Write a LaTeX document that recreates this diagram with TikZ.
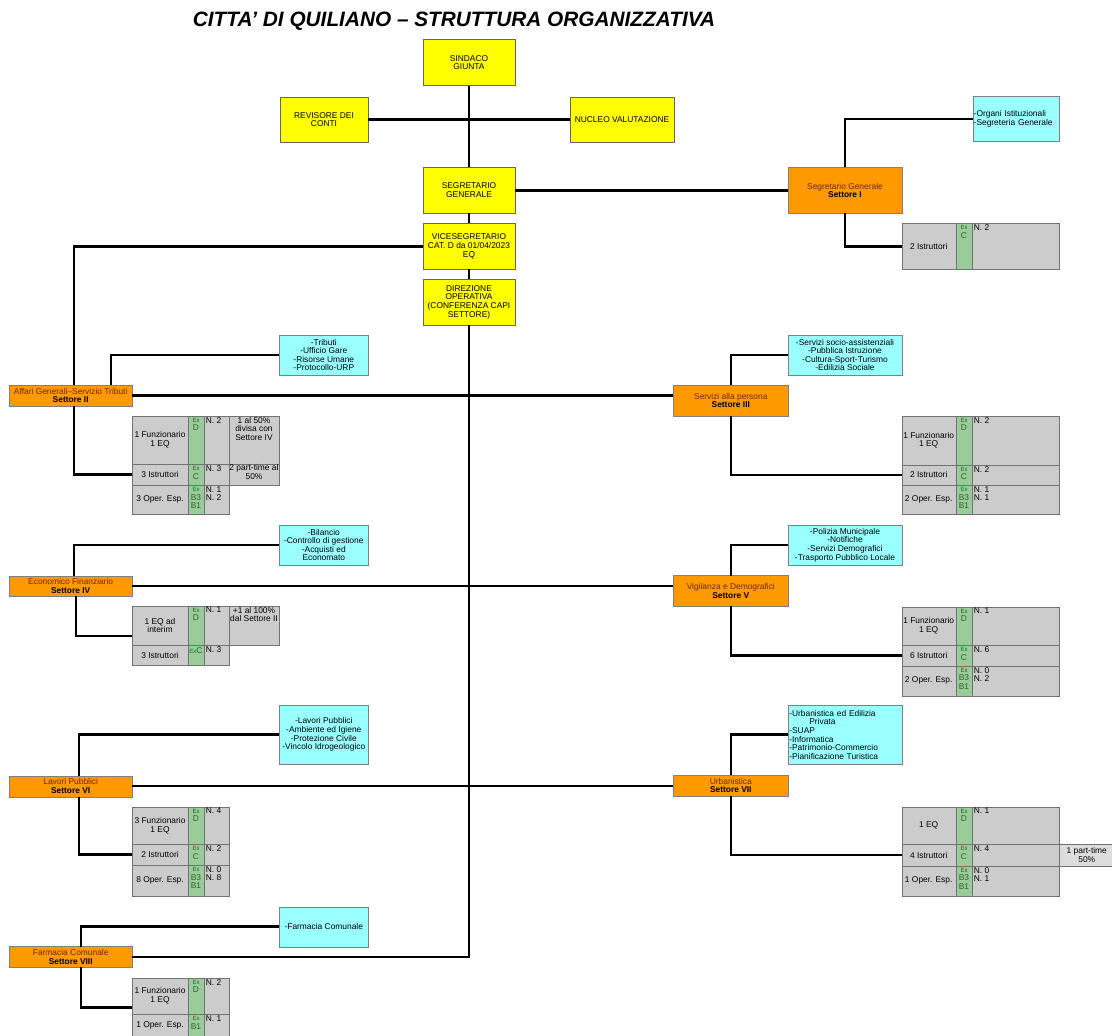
\documentclass[tikz,border=0pt]{standalone}
\usepackage{fontspec}
\setmainfont{Liberation Sans}
\usetikzlibrary{positioning,calc}
\definecolor{giallo}{HTML}{FFFF00}
\definecolor{arancio}{HTML}{FF9900}
\definecolor{azzurro}{HTML}{99FFFF}
\definecolor{grigio}{HTML}{CCCCCC}
\definecolor{grigiochiaro}{HTML}{DDDDDD}
\definecolor{verde}{HTML}{99CC99}
\definecolor{verdescuro}{HTML}{2F5F2F}
\definecolor{marrone}{HTML}{6B2A00}
\newcommand{\exsm}{{\fontsize{6}{6.5}\selectfont Ex}}

\begin{document}
\begin{tikzpicture}[x=1pt,y=-1pt,
  base/.style={font=\fontsize{8.4}{8.6}\selectfont,inner sep=1pt,outer sep=0pt,align=center},
  ybox/.style={base,draw=black!60,fill=giallo,minimum width=92,minimum height=46},
  obox/.style={base,draw=black!50,fill=arancio,text=marrone},
  cbox/.style={base,draw=black!50,fill=azzurro},
  cella/.style={base,draw=black!55,fill=grigio,anchor=north west},
  cverde/.style={cella,fill=verde,minimum width=16.6},
  testo/.style={base,anchor=north,inner sep=1.5pt},
  extesto/.style={testo,inner sep=2.5pt,text=verdescuro},
  conn/.style={line width=2.5pt}]
\useasboundingbox (0,0) rectangle (1112,1036);
\node[font=\fontsize{20.8}{24}\selectfont\bfseries\itshape,anchor=base] (titolo) at (454,26) {CITTA' DI QUILIANO – STRUTTURA ORGANIZZATIVA};

% vertice
\node[ybox] (sindaco) at (469,62.5) {SINDACO\\GIUNTA};
\node[ybox,minimum width=88,minimum height=45] (revisore) at (324,119.5) {REVISORE DEI\\CONTI};
\node[ybox,minimum width=104,minimum height=45] (nucleo) at (622,119.5) {NUCLEO VALUTAZIONE};
\node[ybox] (segretario) at (469,190.3) {SEGRETARIO\\GENERALE};
\node[ybox] (vice) at (469,246.3) {VICESEGRETARIO\\CAT. D da 01/04/2023\\EQ};
\node[ybox] (direzione) at (469,302.2) {DIREZIONE\\OPERATIVA\\(CONFERENZA CAPI\\SETTORE)};

% settori
\foreach \nome/\xc/\yc/\w/\h/\titolo/\num in {s1/845/190.3/113.4/46/Segretario Generale/I,
    s2/70.7/395.5/123.3/21/Affari Generali–Servizio Tributi/II,
    s3/730.8/400.5/115/31/Servizi alla persona/III,
    s4/70.7/586/123.3/20/Economico Finanziario/IV,
    s5/730.8/590.8/115/30.3/Vigilanza e Demografici/V,
    s6/70.7/786.2/123.3/21/Lavori Pubblici/VI,
    s7/730.8/785.5/115/21/Urbanistica/VII,
    s8/70.7/956.8/123.3/20.3/Farmacia Comunale/VIII} {
  \node[obox,minimum width=\w,minimum height=\h] (\nome) at (\xc,\yc) {\titolo\\\textcolor{black}{\textbf{Settore \num}}};
}

% servizi
\node[cbox,text width=84.6,align=left,minimum height=45.7] (c1) at (1016,118.8) {-Organi Istituzionali\\-Segreteria Generale};
\node[cbox,minimum width=89,minimum height=40] (c2) at (323.8,355) {-Tributi\\-Ufficio Gare\\-Risorse Umane\\-Protocollo-URP};
\node[cbox,minimum width=113.4,minimum height=40] (c3) at (845,355) {-Servizi socio-assistenziali\\-Pubblica Istruzione\\-Cultura-Sport-Turismo\\-Edilizia Sociale};
\node[cbox,minimum width=89,minimum height=40] (c4) at (323.8,545) {-Bilancio\\-Controllo di gestione\\-Acquisti ed\\Economato};
\node[cbox,minimum width=113.4,minimum height=40] (c5) at (845,545) {-Polizia Municipale\\-Notifiche\\-Servizi Demografici\\-Trasporto Pubblico Locale};
\node[cbox,minimum width=89,minimum height=59.3] (c6) at (323.8,734.7) {-Lavori Pubblici\\-Ambiente ed Igiene\\-Protezione Civile\\-Vincolo Idrogeologico};
\node[cbox,text width=111.4,align=left,minimum height=59.3] (c7) at (845,734.7) {-Urbanistica ed Edilizia\\\hspace*{20pt}Privata\\-SUAP\\-Informatica\\-Patrimonio-Commercio\\-Pianificazione Turistica};
\node[cbox,minimum width=89,minimum height=40] (c8) at (323.8,926.7) {-Farmacia Comunale};

% personale
\foreach \rr/\xx/\yt/\h/\wl/\wn/\lab/\cat/\num in {
    t1a/901.7/223.3/46/54/87/{2 Istruttori}/{\exsm\\C}/{N. 2},
    t2a/132.3/415.7/48.6/55.4/24.4/{1 Funzionario\\1 EQ}/{\exsm\\D}/{N. 2},
    t2b/132.3/464.3/20.7/55.4/24.4/{3 Istruttori}/{\exsm\\C}/{N. 3},
    t2c/132.3/485/29.3/55.4/24.4/{3 Oper. Esp.}/{\exsm\\B3\\B1}/{N. 1\\N. 2},
    t3a/901.7/415.7/49/54/87/{1 Funzionario\\1 EQ}/{\exsm\\D}/{N. 2},
    t3b/901.7/464.7/20.3/54/87/{2 Istruttori}/{\exsm\\C}/{N. 2},
    t3c/901.7/485/29.3/54/87/{2 Oper. Esp.}/{\exsm\\B3\\B1}/{N. 1\\N. 1},
    t4a/132.3/605.7/39.3/55.4/24.4/{1 EQ ad\\interim}/{\exsm\\D}/{N. 1},
    t4b/132.3/645/20/55.4/24.4/{3 Istruttori}/{\exsm C}/{N. 3},
    t5a/901.7/606.7/38.3/54/87/{1 Funzionario\\1 EQ}/{\exsm\\D}/{N. 1},
    t5b/901.7/645/20.7/54/87/{6 Istruttori}/{\exsm\\C}/{N. 6},
    t5c/901.7/665.7/30/54/87/{2 Oper. Esp.}/{\exsm\\B3\\B1}/{N. 0\\N. 2},
    t6a/132.3/806.7/37.6/55.4/24.4/{3 Funzionario\\1 EQ}/{\exsm\\D}/{N. 4},
    t6b/132.3/844.3/20.7/55.4/24.4/{2 Istruttori}/{\exsm\\C}/{N. 2},
    t6c/132.3/865/30.7/55.4/24.4/{8 Oper. Esp.}/{\exsm\\B3\\B1}/{N. 0\\N. 8},
    t7a/901.7/806.7/37.6/54/87/{1 EQ}/{\exsm\\D}/{N. 1},
    t7b/901.7/844.3/21.4/54/87/{4 Istruttori}/{\exsm\\C}/{N. 4},
    t7c/901.7/865.7/30.3/54/87/{1 Oper. Esp.}/{\exsm\\B3\\B1}/{N. 0\\N. 1},
    t8a/132.3/977.7/36.6/55.4/24.4/{1 Funzionario\\1 EQ}/{\exsm\\D}/{N. 2},
    t8b/132.3/1014.3/22/55.4/24.4/{1 Oper. Esp.}/{\exsm\\B1}/{N. 1}} {
  \node[cella,minimum width=\wl,minimum height=\h] (\rr) at (\xx,\yt) {\lab};
  \node[cverde,minimum height=\h] (\rr-g) at (\rr.north east) {};
  \node[cella,minimum width=\wn,minimum height=\h] (\rr-n) at (\rr-g.north east) {};
  \node[extesto] (\rr-e) at (\rr-g.north) {\cat};
  \node[testo,anchor=north west] (\rr-m) at (\rr-n.north west) {\num};
}
\node[cella,minimum width=50.6,minimum height=48.6] (t2a-nota) at (t2a-n.north east) {};
\node[testo] (t2a-nt) at (t2a-nota.north) {1 al 50\%\\divisa con\\Settore IV};
\node[cella,minimum width=50.6,minimum height=20.7] (t2b-nota) at (t2b-n.north east) {};
\node[testo,inner sep=0.5pt] (t2b-nt) at (t2b-nota.north) {2 part-time al\\50\%};
\node[cella,minimum width=50.6,minimum height=39.3] (t4a-nota) at (t4a-n.north east) {};
\node[testo] (t4a-nt) at (t4a-nota.north) {+1 al 100\%\\dal Settore II};
\node[cella,fill=grigiochiaro,minimum width=55,minimum height=21.4] (t7b-nota) at (t7b-n.north east) {1 part-time\\50\%};
\coordinate (t4in) at (132.3,636);
\coordinate (t8in) at (132.3,1007.7);

% collegamenti
\draw[conn] (sindaco) -- (segretario);
\draw[conn] (revisore) -- (nucleo);
\draw[conn] (segretario) -- (vice);
\draw[conn] (vice) -- (direzione);
\draw[conn] (segretario) -- (s1);
\draw[conn] (vice.west) -| ([xshift=3.3pt]s2.north);
\draw[conn] (direzione.south) |- (s8.east);
\draw[conn] (s2.east) -- (s2.east -| s3.west);
\draw[conn] (s4.east) -- (s4.east -| s5.west);
\draw[conn] (s6.east) -- (s6.east -| s7.west);
\draw[conn] (s1.north) |- (c1.west);
\draw[conn] ([xshift=40.3pt]s2.north) |- (c2.west);
\draw[conn] (s3.north) |- (c3.west);
\draw[conn] ([xshift=3.3pt]s4.north) |- (c4.west);
\draw[conn] (s5.north) |- (c5.west);
\draw[conn] ([xshift=8.3pt]s6.north) |- (c6.west);
\draw[conn] (s7.north) |- (c7.west);
\draw[conn] ([xshift=10.3pt]s8.north) |- (c8.west);
\draw[conn] (s1.south) |- (t1a.west);
\draw[conn] ([xshift=3.3pt]s2.south) |- (t2b.west);
\draw[conn] (s3.south) |- (t3b.west);
\draw[conn] ([xshift=5.3pt]s4.south) |- (t4in);
\draw[conn] (s5.south) |- (t5b.west);
\draw[conn] ([xshift=8.3pt]s6.south) |- (t6b.west);
\draw[conn] (s7.south) |- (t7b.west);
\draw[conn] ([xshift=10.3pt]s8.south) |- (t8in);
\end{tikzpicture}
\end{document}
